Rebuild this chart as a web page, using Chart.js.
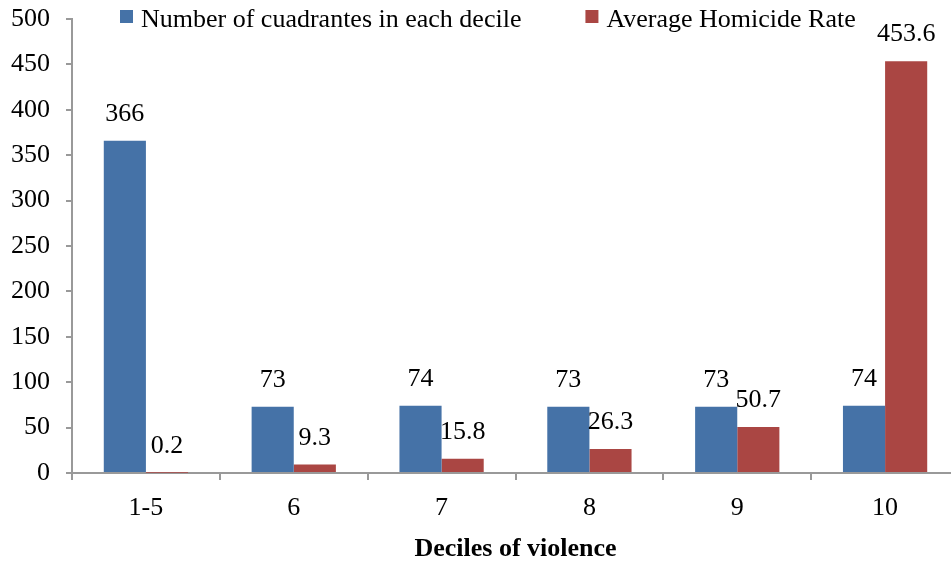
<!DOCTYPE html>
<html>
<head>
<meta charset="utf-8">
<script src="https://cdn.jsdelivr.net/npm/chart.js@4"></script>
<style>
  html, body { margin: 0; background: #fff; overflow: hidden; }
  /* plot runs a few px past the right edge, as in the original */
  #wrap { width: 959px; height: 565px; }
</style>
</head>
<body>
<div id="wrap"><canvas id="myChart"></canvas></div>
<script>
var deciles = ["1-5", "6", "7", "8", "9", "10"];
var cuadrantes = [366, 73, 74, 73, 73, 74];
var homicideRate = [0.2, 9.3, 15.8, 26.3, 50.7, 453.6];
var yTicks = [0, 50, 100, 150, 200, 250, 300, 350, 400, 450, 500];

var serif = "'Liberation Serif', 'Times New Roman', serif";

// draw the value above each bar
var valueLabels = {
  id: "valueLabels",
  afterDatasetsDraw: function (chart) {
    var ctx = chart.ctx;
    ctx.save();
    ctx.font = "26px " + serif;
    ctx.fillStyle = "#000";
    ctx.textAlign = "center";
    ctx.textBaseline = "alphabetic";
    chart.data.datasets.forEach(function (ds, i) {
      chart.getDatasetMeta(i).data.forEach(function (bar, j) {
        ctx.fillText(ds.data[j], bar.x, bar.y - 20);
      });
    });
    ctx.restore();
  }
};

// legend sits inside the plot area like the excel original
var topLegend = {
  id: "topLegend",
  afterDraw: function (chart) {
    var ctx = chart.ctx;
    ctx.save();
    ctx.font = "26px " + serif;
    ctx.textBaseline = "alphabetic";
    ctx.textAlign = "left";
    var x = 120;
    chart.data.datasets.forEach(function (ds) {
      ctx.fillStyle = ds.backgroundColor;
      ctx.fillRect(x, 10, 13, 13);
      ctx.fillStyle = "#000";
      ctx.fillText(ds.label, x + 21, 27);
      x += 21 + ctx.measureText(ds.label).width + 64;
    });
    ctx.restore();
  }
};

new Chart("myChart", {
  type: "bar",
  data: {
    labels: deciles,
    datasets: [{
      label: "Number of cuadrantes in each decile",
      backgroundColor: "#4572A7",
      data: cuadrantes,
      barPercentage: 1,
      categoryPercentage: 0.57
    }, {
      label: "Average Homicide Rate",
      backgroundColor: "#AA4643",
      data: homicideRate,
      barPercentage: 1,
      categoryPercentage: 0.57
    }]
  },
  options: {
    responsive: true,
    maintainAspectRatio: false,
    animation: false,
    layout: { padding: { left: 0, right: 0, top: 0, bottom: 0 } },
    plugins: {
      legend: { display: false },
      tooltip: { enabled: false }
    },
    scales: {
      y: {
        min: 0,
        max: 500,
        afterBuildTicks: function (axis) {
          axis.ticks = yTicks.map(function (v) { return { value: v }; });
        },
        afterFit: function (axis) {
          axis.width = 72;
          axis.paddingTop = 19;
        },
        ticks: {
          font: { family: serif, size: 26 },
          color: "#000",
          padding: 16
        },
        grid: { drawOnChartArea: false, drawTicks: true, tickLength: 6, color: "#999", lineWidth: 2 },
        border: { color: "#999", width: 2 }
      },
      x: {
        afterFit: function (axis) {
          axis.height = 92;
          axis.paddingLeft = 0;
          axis.paddingRight = 0;
        },
        ticks: {
          font: { family: serif, size: 26 },
          color: "#000",
          padding: 13
        },
        grid: { drawOnChartArea: false, drawTicks: true, tickLength: 7, color: "#999", lineWidth: 2, offset: true },
        border: { color: "#999", width: 2 },
        title: {
          display: true,
          text: "Deciles of violence",
          font: { family: serif, size: 26, weight: "bold" },
          color: "#000",
          padding: { top: 0, bottom: 0 }
        }
      }
    }
  },
  plugins: [valueLabels, topLegend]
});
</script>
</body>
</html>
